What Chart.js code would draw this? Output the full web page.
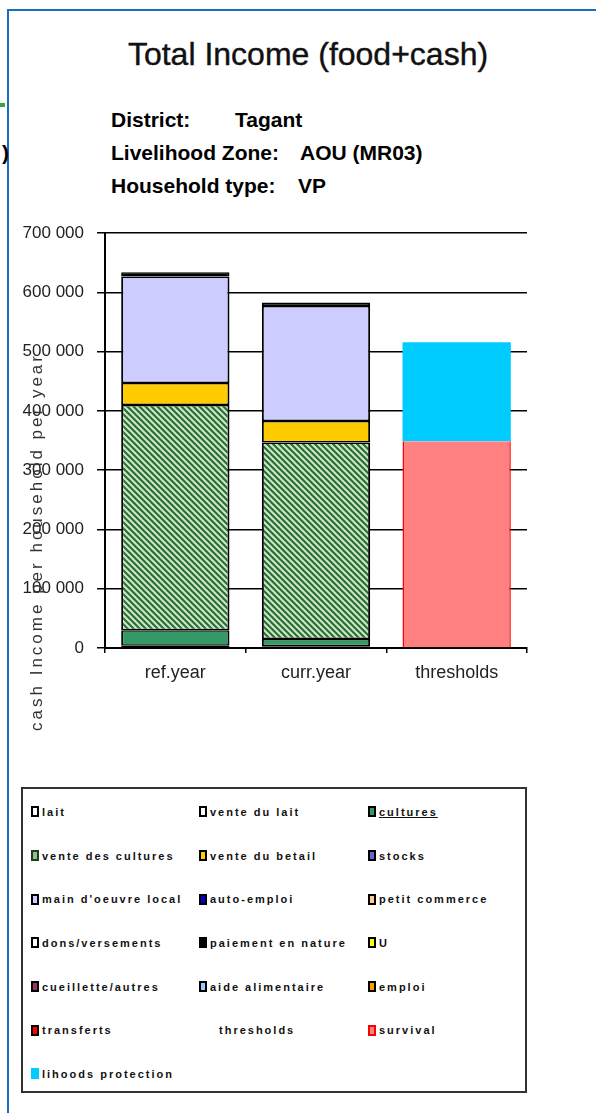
<!DOCTYPE html>
<html>
<head>
<meta charset="utf-8">
<script src="https://cdn.jsdelivr.net/npm/chart.js@4.4.1/dist/chart.umd.min.js"></script>
<style>
  body { margin: 0; background: #fff; width: 596px; height: 1113px; position: relative; overflow: hidden; font-family: "Liberation Sans", Arial, sans-serif; }
  #frameTop { position: absolute; left: 7px; top: 9px; width: 589px; height: 2px; background: #1b6cc0; }
  #frameLeft { position: absolute; left: 7px; top: 9px; width: 2px; height: 1104px; background: #1b6cc0; }
  #greenMark { position: absolute; left: 0; top: 103px; width: 5px; height: 4px; background: #3aa53a; }
  #paren { position: absolute; left: 2px; top: 141px; font-weight: bold; font-size: 21px; }
  #title { position: absolute; left: 0; width: 616px; top: 36px; text-align: center; font-size: 32px; color: #111; -webkit-text-stroke: 0.4px #111; }
  .sub { position: absolute; font-weight: bold; font-size: 21px; color: #000; }
  #chartBox { position: absolute; left: 0; top: 210px; width: 596px; height: 550px; }
  #legend { position: absolute; left: 21px; top: 787px; width: 506px; height: 306px; box-sizing: border-box; border: 2px solid #333;
            display: grid; grid-template-columns: 168px 169px 1fr; grid-auto-rows: 43.7px; padding: 1px 0 0 8px; }
  .item { display: flex; align-items: center; font-size: 11px; font-weight: bold; letter-spacing: 2px; color: #111; white-space: nowrap; }
  .sw { display: inline-block; width: 8px; height: 11px; box-sizing: border-box; border: 2px solid #000; margin-right: 3px; }
</style>
</head>
<body>
<div id="frameTop"></div>
<div id="frameLeft"></div>
<div id="greenMark"></div>
<div id="paren">)</div>
<div id="title">Total Income (food+cash)</div>
<div class="sub" style="left:111px; top:108px;">District:</div>
<div class="sub" style="left:235px; top:108px;">Tagant</div>
<div class="sub" style="left:111px; top:141px;">Livelihood Zone:</div>
<div class="sub" style="left:300px; top:141px;">AOU (MR03)</div>
<div class="sub" style="left:111px; top:174px;">Household type:</div>
<div class="sub" style="left:298px; top:174px;">VP</div>
<div id="chartBox"><canvas id="incomeChart"></canvas></div>
<div id="legend"></div>

<script>
// categories on the x axis
const categories = ['ref.year', 'curr.year', 'thresholds'];

// y axis ticks
const yTicks = [0, 100000, 200000, 300000, 400000, 500000, 600000, 700000];

// series names, in stacking / legend order
const seriesNames = [
    'lait', 'vente du lait', 'cultures',
    'vente des cultures', 'vente du betail', 'stocks',
    "main d'oeuvre local", 'auto-emploi', 'petit commerce',
    'dons/versements', 'paiement en nature', 'U',
    'cueillette/autres', 'aide alimentaire', 'emploi',
    'transferts', 'thresholds', 'survival',
    'lihoods protection'
];

// values per series: [ref.year, curr.year, thresholds]
const lait = [4000, 3000, 0];
const venteDuLait = [0, 0, 0];
const cultures = [26000, 12000, 0];
const venteDesCultures = [380000, 332000, 0];
const venteDuBetail = [37000, 36000, 0];
const stocks = [0, 0, 0];
const mainOeuvre = [180000, 194000, 0];
const autoEmploi = [0, 0, 0];
const petitCommerce = [0, 0, 0];
const dons = [0, 0, 0];
const paiementNature = [7000, 6000, 0];
const uSeries = [0, 0, 0];
const cueillette = [0, 0, 0];
const aideAlimentaire = [0, 0, 0];
const emploi = [0, 0, 0];
const transferts = [0, 0, 0];
const thresholdsSeries = [0, 0, 0];
const survival = [0, 0, 349000];
const protection = [0, 0, 167000];

const seriesValues = [
    lait, venteDuLait, cultures,
    venteDesCultures, venteDuBetail, stocks,
    mainOeuvre, autoEmploi, petitCommerce,
    dons, paiementNature, uSeries,
    cueillette, aideAlimentaire, emploi,
    transferts, thresholdsSeries, survival,
    protection
];

const seriesColors = [
    '#FFFFFF', '#FFFFFF', '#339966',
    'hatch', '#FFCC00', '#6666CC',
    '#CCCCFF', '#0000CC', '#FFCC99',
    '#FFFFFF', '#000000', '#FFFF00',
    '#993366', '#99CCFF', '#FF9900',
    '#FF0000', null, '#FF8080',
    '#00CCFF'
];

// diagonal hatch for "vente des cultures"
function makeHatch() {
    const c = document.createElement('canvas');
    c.width = 6; c.height = 6;
    const g = c.getContext('2d');
    g.fillStyle = '#2a7232';
    g.fillRect(0, 0, 6, 6);
    g.strokeStyle = '#d2e6ce';
    g.lineWidth = 2;
    g.beginPath();
    g.moveTo(-1, -1); g.lineTo(7, 7);
    g.moveTo(-1, 5); g.lineTo(1, 7);
    g.moveTo(5, -1); g.lineTo(7, 1);
    g.stroke();
    return g.createPattern(c, 'repeat');
}
const hatch = makeHatch();

const datasets = seriesNames.map((name, i) => {
    let bg = seriesColors[i];
    if (bg === 'hatch') bg = hatch;
    let borderColor = '#000';
    let borderWidth = { left: 2, right: 2, top: 1.5, bottom: 1.5 };
    if (name === 'survival') {
        borderColor = '#FF0000';
        borderWidth = { left: 1.5, right: 1.5, top: 0, bottom: 0 };
    }
    if (name === 'lihoods protection' || name === 'thresholds') {
        borderWidth = 0;
    }
    return {
        label: name,
        data: seriesValues[i],
        backgroundColor: bg || 'rgba(0,0,0,0)',
        borderColor: borderColor,
        borderWidth: borderWidth,
        borderSkipped: false,
        categoryPercentage: 0.77,
        barPercentage: 1
    };
});

// rotated y axis title, overlapping the tick labels like the original
const yTitlePlugin = {
    id: 'yTitle',
    afterDraw(chart) {
        const ctx = chart.ctx;
        ctx.save();
        ctx.translate(37, 332);
        ctx.rotate(-Math.PI / 2);
        ctx.font = '17px "Liberation Sans", Arial, sans-serif';
        ctx.letterSpacing = '3px';
        ctx.textAlign = 'center';
        ctx.textBaseline = 'middle';
        ctx.fillStyle = '#333';
        ctx.fillText('cash Income per household per year', 0, 0);
        ctx.restore();
    }
};

const ctx = document.getElementById('incomeChart').getContext('2d');
new Chart(ctx, {
    type: 'bar',
    data: {
        labels: categories,
        datasets: datasets
    },
    options: {
        responsive: true,
        maintainAspectRatio: false,
        animation: false,
        layout: { padding: { top: 18, right: 69, bottom: 72, left: 0 } },
        plugins: {
            legend: { display: false },
            tooltip: { enabled: false }
        },
        scales: {
            x: {
                stacked: true,
                grid: { display: true, drawOnChartArea: false, offset: true, tickLength: 5, color: '#000', lineWidth: 1.5 },
                border: { display: true, color: '#000', width: 2 },
                ticks: { color: '#222', padding: 9, font: { family: '"Liberation Sans", Arial, sans-serif', size: 18 } },
                afterFit: scale => { scale.height = 40; }
            },
            y: {
                stacked: true,
                min: 0,
                max: 700000,
                afterBuildTicks: scale => { scale.ticks = yTicks.map(v => ({ value: v })); },
                grid: { color: '#000', lineWidth: 1.5, tickLength: 8 },
                border: { display: true, color: '#000', width: 2 },
                ticks: {
                    color: '#222',
                    padding: 13,
                    font: { family: '"Liberation Sans", Arial, sans-serif', size: 17 },
                    callback: v => String(v).replace(/\B(?=(\d{3})+(?!\d))/g, ' ')
                },
                afterFit: scale => { scale.width = 105; }
            }
        }
    },
    plugins: [yTitlePlugin]
});

// legend grid built from the series arrays
const legendBox = document.getElementById('legend');
seriesNames.forEach((name, i) => {
    const item = document.createElement('div');
    item.className = 'item';
    const sw = document.createElement('span');
    sw.className = 'sw';
    const col = seriesColors[i];
    if (col === 'hatch') {
        sw.style.background = '#8fbf8f';
        sw.style.borderColor = '#1f3a1f';
    } else if (col === null) {
        sw.style.visibility = 'hidden';
        sw.style.marginRight = '12px';
    } else {
        sw.style.background = col;
    }
    if (name === 'survival') sw.style.borderColor = '#FF0000';
    if (name === 'lihoods protection') sw.style.borderColor = col;
    const txt = document.createElement('span');
    txt.textContent = name;
    if (name === 'cultures') txt.style.textDecoration = 'underline';
    item.appendChild(sw);
    item.appendChild(txt);
    legendBox.appendChild(item);
});
</script>
</body>
</html>
